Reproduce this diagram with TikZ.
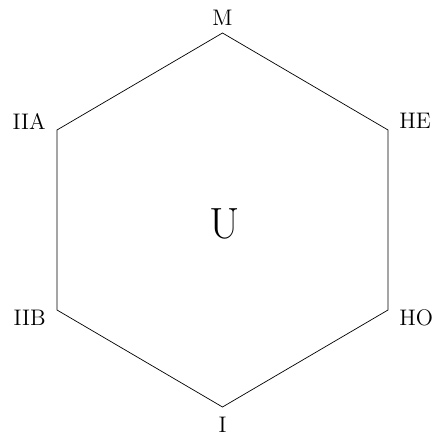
\documentclass[tikz,border=0pt]{standalone}
\usepackage{tikz}

\begin{document}
\begin{tikzpicture}[
    vlabel/.style={inner sep=0pt,font=\fontsize{12.8}{15}\selectfont},
    centre/.style={inner sep=0pt,font=\Huge}
]
\useasboundingbox (-4.45,-4.38) rectangle (4.19,4.40);

% Vertices
\coordinate (m) at (0,3.74);
\coordinate (he) at (3.31,1.80);
\coordinate (ho) at (3.31,-1.80);
\coordinate (i) at (0,-3.74);
\coordinate (iib) at (-3.31,-1.80);
\coordinate (iia) at (-3.31,1.80);

% Hexagon
\draw (m) -- (he) -- (ho) -- (i) -- (iib) -- (iia) -- cycle;

% Labels
\node[vlabel] (lm) at (0,4.05) {M};
\node[vlabel,anchor=west] (lhe) at (3.53,1.99) {HE};
\node[vlabel,anchor=west] (lho) at (3.53,-1.95) {HO};
\node[vlabel] (li) at (0,-4.10) {I};
\node[vlabel,anchor=east] (liib) at (-3.53,-1.96) {IIB};
\node[vlabel,anchor=east] (liia) at (-3.53,1.97) {IIA};

% Centre
\node[centre] (u) at (0.05,-0.07) {U};

\end{tikzpicture}
\end{document}
